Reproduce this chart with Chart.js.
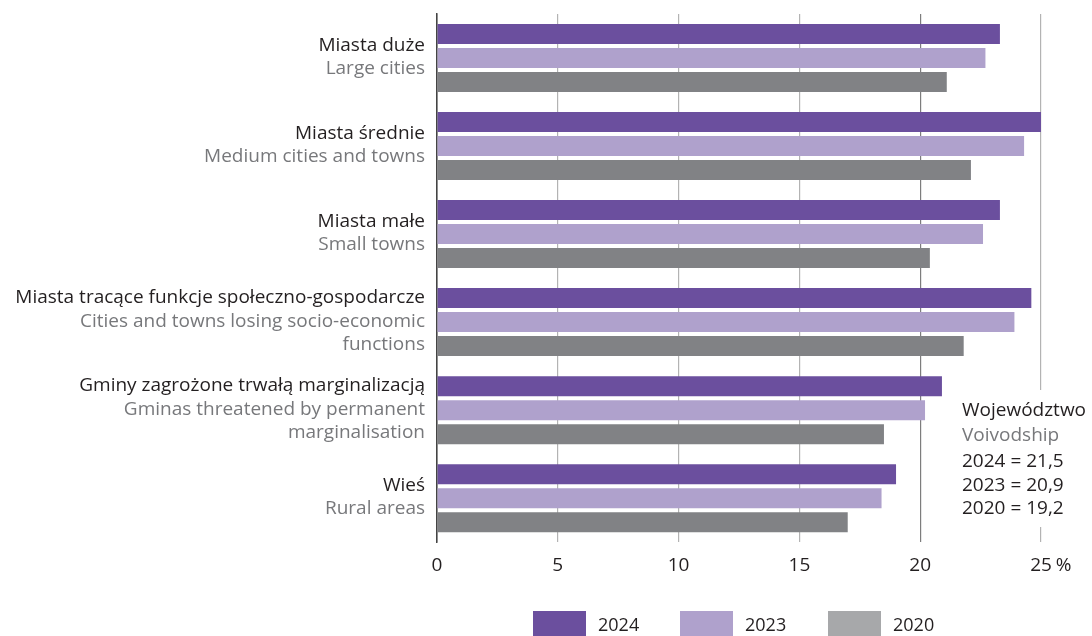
<!DOCTYPE html>
<html>
<head>
<meta charset="utf-8">
<script src="https://cdn.jsdelivr.net/npm/chart.js@4"></script>
<style>
  html, body { margin: 0; padding: 0; background: #fff; }
  #wrap { width: 1092px; height: 636px; position: relative; }
</style>
</head>
<body>
<div id="wrap"><canvas id="c" width="1092" height="636"></canvas></div>
<script>
// ---- data ----
const categoriesPl = [
  "Miasta duże",
  "Miasta średnie",
  "Miasta małe",
  "Miasta tracące funkcje społeczno-gospodarcze",
  "Gminy zagrożone trwałą marginalizacją",
  "Wieś"
];
const categoriesEn = [
  ["Large cities"],
  ["Medium cities and towns"],
  ["Small towns"],
  ["Cities and towns losing socio-economic", "functions"],
  ["Gminas threatened by permanent", "marginalisation"],
  ["Rural areas"]
];
const seriesLabels = ["2024", "2023", "2020"];
const values2024 = [23.3, 25.0, 23.3, 24.6, 20.9, 19.0];
const values2023 = [22.7, 24.3, 22.6, 23.9, 20.2, 18.4];
const values2020 = [21.1, 22.1, 20.4, 21.8, 18.5, 17.0];
const xTicks = [0, 5, 10, 15, 20, 25];
const voivTitlePl = "Województwo";
const voivTitleEn = "Voivodship";
const voivYears = ["2024", "2023", "2020"];
const voivValues = [21.5, 20.9, 19.2];

// ---- styles ----
const barColors = ["#6b4f9e", "#afa1cc", "#818285"];
const legendColors = ["#6b4f9e", "#afa1cc", "#a7a8aa"];
const FONT = "'Open Sans', 'Noto Sans', sans-serif";
const DARK = "#231f20";
const GREY = "#77787b";

const labelsPlugin = {
  id: "customText",
  afterDraw(chart) {
    const ctx = chart.ctx;
    const ys = chart.scales.y;
    const xs = chart.scales.x;
    ctx.save();
    // category labels
    ctx.textAlign = "right";
    ctx.textBaseline = "middle";
    const lh = 23.5;
    categoriesPl.forEach((pl, i) => {
      const lines = [pl].concat(categoriesEn[i]);
      const yc = ys.getPixelForValue(i);
      let y0 = yc - (lines.length - 1) * lh / 2 - 1;
      lines.forEach((t, k) => {
        ctx.font = "19px " + FONT;
        ctx.fillStyle = k === 0 ? DARK : GREY;
        ctx.fillText(t, 425, y0 + k * lh);
      });
    });
    // percent sign after last tick
    ctx.font = "19px " + FONT;
    ctx.fillStyle = DARK;
    ctx.textAlign = "left";
    const lastX = xs.getPixelForValue(xTicks[xTicks.length - 1]);
    const w = ctx.measureText(String(xTicks[xTicks.length - 1])).width;
    ctx.fillText("%", lastX + w / 2 + 4, xs.top + 12 + 11);
    // voivodship box
    const bx = 962;
    ctx.fillStyle = "#fff";
    ctx.fillRect(bx - 12, 390, 1092 - bx + 12, 137);
    ctx.textBaseline = "middle";
    ctx.fillStyle = DARK;
    ctx.fillText(voivTitlePl, bx, 411);
    ctx.fillStyle = GREY;
    ctx.fillText(voivTitleEn, bx, 436);
    ctx.fillStyle = DARK;
    voivYears.forEach((yr, k) => {
      ctx.fillText(yr + " = " + voivValues[k].toFixed(1).replace(".", ","), bx, 462 + k * 23.5);
    });
    // legend
    ctx.font = "18px " + FONT;
    const boxX = [533, 680, 828];
    chart.data.datasets.forEach((ds, k) => {
      ctx.fillStyle = legendColors[k];
      ctx.fillRect(boxX[k], 611, 53, 26);
      ctx.fillStyle = DARK;
      ctx.textAlign = "left";
      ctx.fillText(ds.label, boxX[k] + 65, 626);
    });
    ctx.restore();
  }
};

new Chart(document.getElementById("c"), {
  type: "bar",
  data: {
    labels: categoriesPl,
    datasets: [
      { label: seriesLabels[0], data: values2024, backgroundColor: barColors[0] },
      { label: seriesLabels[1], data: values2023, backgroundColor: barColors[1] },
      { label: seriesLabels[2], data: values2020, backgroundColor: barColors[2] }
    ]
  },
  options: {
    indexAxis: "y",
    responsive: false,
    animation: false,
    devicePixelRatio: 1,
    categoryPercentage: 0.818,
    barPercentage: 0.833,
    layout: { padding: { left: 429, top: 14, right: 51, bottom: 47 } },
    plugins: { legend: { display: false }, tooltip: { enabled: false } },
    scales: {
      x: {
        min: 0, max: 25,
        afterBuildTicks(s) { s.ticks = xTicks.map(v => ({ value: v })); },
        grid: {
          drawTicks: false,
          color: ctx => ctx.tick && ctx.tick.value === 20 ? "#7d7d7d" : (ctx.tick && ctx.tick.value === 0 ? "#444" : "#b3b3b3"),
          lineWidth: 1.2
        },
        border: { display: false },
        ticks: { padding: 12, color: DARK, font: { size: 19, family: FONT }, maxRotation: 0 }
      },
      y: {
        grid: { display: false },
        border: { display: true, color: "#444", width: 1.5 },
        ticks: { display: false }
      }
    }
  },
  plugins: [labelsPlugin]
});
</script>
</body>
</html>
